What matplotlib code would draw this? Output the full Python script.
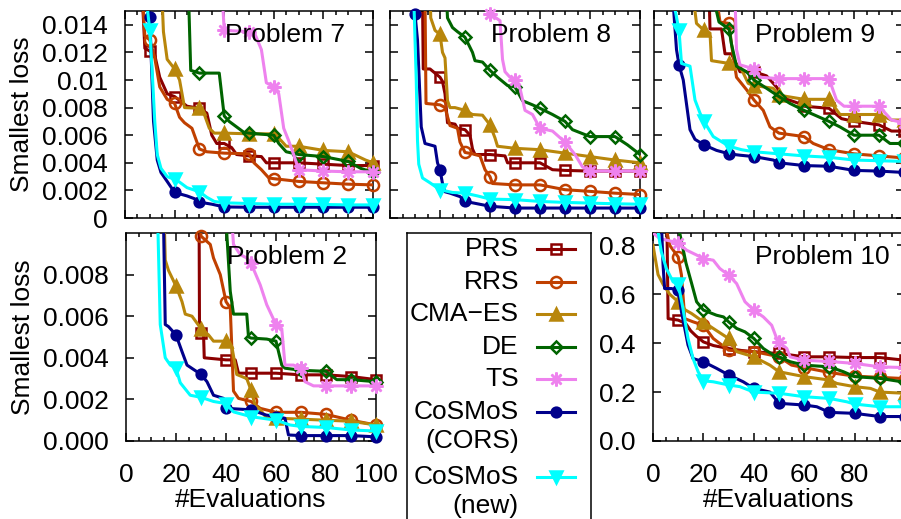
import matplotlib
matplotlib.use("Agg")
import matplotlib.pyplot as plt
import numpy as np

plt.rcParams["font.family"] = ["Liberation Sans", "DejaVu Sans"]
plt.rcParams["font.size"] = 19

W, H = 901, 519

# methods in legend order
NAMES = ["PRS", "RRS", "CMA\u2212ES", "DE", "TS", "CoSMoS\n(CORS)", "CoSMoS\n(new)"]
COLORS = ["#8b0000", "#c04000", "#b8860b", "#006400", "#ee82ee", "#00008b", "#00ffff"]
MARKERS = ["s", "o", "^", "D", (8, 2, 0), "o", "v"]
MSIZES = [7, 8, 9, 6.5, 10, 7, 8]
FILLED = [False, False, True, False, True, True, True]

# ---- Problem 7 (loss in 1e-3) ----
P7_PRS = ([7, 8, 10, 12, 14, 17, 20, 25, 30, 33, 35, 37, 40, 43, 45, 50, 55, 57, 60, 70, 80, 90, 100],
          [16, 12.3, 12.1, 11.8, 10.2, 9.0, 8.8, 8.1, 7.95, 7.6, 6.0, 5.4, 5.4, 5.1, 4.6, 4.5, 4.45, 4.0, 4.0, 4.0, 3.9, 3.8, 3.8])
P7_RRS = ([7, 8, 10, 12, 14, 17, 20, 22, 24, 27, 30, 33, 40, 50, 52, 55, 58, 60, 70, 80, 90, 100],
          [16, 13.2, 12.9, 11.6, 9.5, 8.6, 8.3, 7.3, 6.9, 6.5, 5.0, 4.8, 4.7, 4.65, 4.0, 3.5, 2.9, 2.85, 2.65, 2.55, 2.45, 2.4])
P7_CMA = ([14, 15.5, 17, 20, 22, 24, 30, 32, 34, 36, 40, 50, 60, 63, 65, 70, 80, 90, 97, 100],
          [20, 13.5, 11.5, 10.8, 10.0, 8.0, 7.95, 7.5, 6.5, 6.15, 6.15, 6.1, 6.1, 5.6, 5.2, 5.2, 4.9, 4.8, 4.2, 4.0])
P7_DE = ([25, 26.5, 30, 38, 40, 42, 45, 48, 50, 60, 62, 65, 70, 80, 90, 95, 100],
         [20, 10.7, 10.5, 10.5, 7.4, 7.0, 6.6, 6.2, 6.15, 6.0, 5.4, 4.8, 4.6, 4.45, 4.1, 3.6, 3.3])
P7_TS = ([38, 40, 50, 52, 55, 57, 60, 62, 64, 66, 68, 70, 80, 90, 100],
         [20, 13.6, 13.5, 13.5, 12.2, 9.8, 9.5, 9.0, 6.5, 5.6, 4.6, 3.5, 3.4, 3.35, 3.35])
P7_CORS = ([8, 10, 10.5, 11.5, 13, 14.5, 17, 20, 25, 28, 30, 35, 40, 50, 60, 70, 80, 90, 100],
           [16, 14.6, 12.0, 7.0, 4.2, 3.3, 2.65, 1.85, 1.6, 1.4, 1.15, 1.0, 0.8, 0.78, 0.78, 0.78, 0.78, 0.78, 0.78])
P7_NEW = ([8.5, 10, 11, 12, 13, 14.5, 17, 20, 22, 25, 30, 33, 36, 40, 50, 60, 70, 80, 90, 100],
          [16, 13.6, 10.5, 7.0, 4.6, 3.6, 3.0, 2.8, 2.6, 2.2, 1.9, 1.5, 1.2, 1.1, 1.05, 1.0, 1.0, 0.98, 0.95, 0.95])

# ---- Problem 8 (loss in 1e-3) ----
P8_PRS = ([13, 13.3, 16, 18, 20, 21, 22, 23, 26, 27, 30, 32, 33, 34, 40, 46, 47, 50, 60, 65, 70, 80, 90, 100],
          [16, 10.8, 10.8, 10.5, 10.2, 9.9, 9.0, 6.9, 6.8, 6.5, 6.4, 6.0, 5.0, 4.6, 4.6, 4.5, 4.0, 4.0, 4.0, 3.5, 3.45, 3.4, 3.4, 3.4])
P8_RRS = ([14, 14.4, 20, 22, 24, 27, 28, 30, 33, 36, 38, 40, 41, 50, 60, 70, 80, 90, 100],
          [16, 8.3, 8.2, 8.0, 6.7, 6.5, 5.5, 4.75, 4.65, 4.5, 3.5, 3.0, 2.5, 2.4, 2.4, 2.05, 1.93, 1.8, 1.7])
P8_CMA = ([15.5, 16.3, 18, 20, 21, 22, 23, 24, 26, 30, 33, 37, 40, 42, 43, 50, 60, 70, 80, 90, 100],
          [20, 14.5, 13.6, 13.3, 12.0, 11.6, 8.5, 8.0, 8.0, 7.8, 7.5, 7.45, 6.75, 5.8, 5.2, 5.05, 4.95, 4.7, 4.45, 4.2, 4.0])
P8_DE = ([21.5, 23, 25, 27, 30, 33, 34, 37, 40, 43, 47, 50, 53, 57, 60, 65, 70, 73, 80, 90, 95, 100],
         [20, 14.5, 13.8, 13.5, 13.1, 12.0, 11.4, 11.3, 10.7, 10.2, 9.6, 9.5, 8.5, 8.2, 7.95, 7.5, 7.0, 6.4, 5.9, 5.9, 5.3, 4.6])
P8_TS = ([38.5, 40, 44, 45, 46, 48, 50, 52, 54, 57, 60, 65, 70, 74, 77, 80, 90, 100],
         [20, 14.8, 14.3, 11.5, 10.6, 10.2, 10.0, 9.4, 7.8, 7.5, 6.5, 6.3, 5.5, 4.6, 3.7, 3.4, 3.4, 3.4])
P8_CORS = ([9, 10, 11, 12.5, 14, 16, 18, 19, 20, 21, 22, 24, 28, 30, 33, 40, 50, 60, 70, 80, 90, 100],
           [16, 14.8, 12.9, 6.6, 5.4, 5.3, 5.2, 4.0, 3.5, 2.5, 1.9, 1.8, 1.55, 1.2, 1.1, 0.85, 0.72, 0.72, 0.72, 0.72, 0.72, 0.72])
P8_NEW = ([9.5, 10.5, 11, 11.5, 13, 16, 20, 25, 30, 35, 40, 50, 60, 70, 80, 90, 100],
          [16, 10.0, 5.6, 3.9, 2.9, 2.55, 2.05, 1.85, 1.8, 1.6, 1.37, 1.33, 1.2, 1.13, 1.08, 1.03, 1.0])

# ---- Problem 9 (loss in 1e-3) ----
P9_PRS = ([21.5, 22.4, 27, 28.4, 31, 34.4, 40, 45, 49, 51.7, 58, 60, 70, 75, 80, 90, 95, 100],
          [20, 13.7, 13.7, 11.9, 11.9, 10.6, 10.6, 10.3, 9.5, 8.7, 8.3, 8.1, 7.95, 7.2, 7.0, 6.75, 6.3, 6.3])
P9_RRS = ([25, 26.4, 30, 31, 33, 37, 40, 43.7, 46.4, 50, 60, 63.7, 70, 80, 90, 100],
          [16, 14.2, 14.1, 12.6, 10.2, 9.3, 8.55, 7.8, 6.6, 6.15, 5.9, 5.4, 4.95, 4.65, 4.5, 4.35])
P9_CMA = ([15.7, 17, 20, 22.4, 23, 30, 34.4, 37.7, 40, 47.7, 50, 60, 70, 74.4, 80, 90, 95, 100],
          [16, 14.1, 13.6, 13.4, 11.4, 11.2, 11.0, 9.75, 9.6, 9.4, 8.9, 8.6, 8.6, 7.5, 7.5, 7.5, 7.1, 7.1])
P9_DE = ([23.7, 26, 30, 31, 33, 37, 40, 45, 50, 54.4, 60, 70, 74.4, 80, 90, 94.4, 100],
         [16, 14.2, 13.7, 12.6, 11.0, 10.6, 10.0, 9.4, 8.8, 8.3, 7.8, 7.0, 6.6, 6.0, 6.0, 5.4, 5.4])
P9_TS = ([32.4, 33, 34.4, 40, 42.4, 50, 60, 70, 73, 76, 80, 90, 95, 100],
         [16, 12.2, 11.1, 10.8, 10.2, 10.1, 10.1, 10.1, 8.55, 8.1, 8.1, 8.1, 7.1, 6.9])
P9_CORS = ([7.5, 9, 10, 11.7, 14.4, 16.4, 20, 25, 30, 34.4, 40, 47.7, 50, 60, 70, 80, 90, 100],
           [16, 12.2, 11.1, 10.0, 6.4, 5.7, 5.3, 4.9, 4.65, 4.55, 4.45, 4.2, 4.0, 3.8, 3.75, 3.45, 3.4, 3.3])
P9_NEW = ([7.5, 10, 11, 14.4, 16.4, 18.4, 20, 23.7, 30, 35, 40, 50, 60, 70, 80, 90, 100],
          [16, 13.6, 11.2, 11.0, 8.55, 7.6, 7.0, 5.9, 5.2, 4.95, 4.8, 4.65, 4.5, 4.4, 4.2, 4.15, 4.1])

# ---- Problem 2 (loss in 1e-3) ----
P2_PRS = ([29.2, 29.4, 30, 31, 31.3, 40, 43.7, 45, 50, 60, 70, 80, 90, 100],
          [12, 5.4, 5.2, 5.2, 4.0, 3.9, 3.9, 3.26, 3.26, 3.26, 3.18, 3.18, 3.1, 2.95])
P2_RRS = ([29, 30, 33.7, 35, 37.7, 40, 41.7, 43, 45, 50, 53.7, 60, 70, 80, 90, 100],
          [12, 9.85, 9.45, 8.8, 8.0, 6.7, 6.4, 2.4, 2.05, 1.9, 1.57, 1.38, 1.38, 1.28, 1.0, 0.77])
P2_CMA = ([15, 15.7, 17, 20, 22.4, 23.7, 26.4, 30, 33, 35, 40, 42.4, 44.3, 48.3, 50, 51.7, 53.7, 56.3, 60, 70, 80, 90, 100],
          [12, 8.7, 8.2, 7.45, 6.7, 6.1, 6.0, 5.4, 5.1, 4.8, 4.8, 4.5, 3.2, 3.0, 2.45, 1.7, 1.5, 1.1, 1.1, 1.05, 1.0, 0.95, 0.77])
P2_DE = ([40, 40.3, 41.7, 43, 48.3, 49, 50, 56.3, 60, 62.3, 63.6, 70, 80, 84.3, 90, 100],
         [12, 10, 7.2, 6.1, 6.1, 5.0, 4.95, 4.9, 4.8, 3.65, 3.5, 3.4, 3.35, 2.95, 2.95, 2.85])
P2_TS = ([41.5, 43, 45.7, 48.3, 50, 53.7, 56.3, 60, 62.3, 63.6, 67, 70, 71.6, 75, 80, 90, 100],
         [12, 9.45, 8.96, 8.8, 8.55, 7.5, 6.55, 5.6, 5.4, 3.65, 3.65, 3.5, 2.85, 2.65, 2.65, 2.65, 2.65])
P2_CORS = ([14.8, 15.7, 17, 20, 22.4, 24.4, 30, 32.4, 35, 39, 40, 43, 50, 56, 60, 63.6, 65, 70, 80, 90, 100],
           [12, 5.6, 5.5, 5.1, 4.3, 3.65, 3.2, 2.85, 2.2, 2.05, 1.6, 1.55, 1.5, 1.25, 1.17, 1.09, 0.29, 0.26, 0.26, 0.26, 0.2])
P2_NEW = ([12.4, 13.7, 15.7, 17.7, 20, 21.7, 25.7, 30, 35, 40, 43, 50, 60, 65.6, 70, 80, 90, 100],
          [12, 5.6, 4.0, 3.65, 3.5, 2.8, 2.2, 2.1, 1.9, 1.8, 1.4, 1.17, 1.0, 0.77, 0.7, 0.65, 0.53, 0.48])

# ---- Problem 10 ----
P10_PRS = ([5.5, 6, 10, 13, 15, 17, 20, 24, 30, 35, 40, 46, 50, 60, 70, 80, 90, 100],
           [0.9, 0.5, 0.494, 0.48, 0.45, 0.43, 0.405, 0.39, 0.378, 0.37, 0.365, 0.36, 0.358, 0.344, 0.344, 0.341, 0.341, 0.33])
P10_RRS = ([4.6, 6.6, 10, 11.3, 12.6, 15.9, 20, 23.9, 30, 34.5, 40, 45, 50, 55, 60, 70, 80, 90, 100],
           [0.9, 0.8, 0.752, 0.678, 0.5, 0.487, 0.473, 0.419, 0.371, 0.367, 0.365, 0.355, 0.344, 0.31, 0.3, 0.28, 0.265, 0.26, 0.255])
P10_CMA = ([0, 2, 4, 6.6, 10, 11.9, 15.3, 20, 23.9, 30, 33.2, 40, 46.4, 50, 60, 70, 73, 80, 86.3, 90, 100],
           [0.8, 0.68, 0.64, 0.6, 0.569, 0.541, 0.521, 0.487, 0.46, 0.419, 0.365, 0.344, 0.31, 0.283, 0.263, 0.249, 0.235, 0.222, 0.215, 0.2, 0.195])
P10_DE = ([8, 10, 10.6, 13.1, 15.3, 17.3, 20, 25.2, 28, 30, 33.2, 36.5, 40, 43.8, 47.8, 50, 54.4, 60, 70, 75.6, 80, 90, 100],
          [0.95, 0.9, 0.85, 0.727, 0.645, 0.569, 0.535, 0.514, 0.507, 0.487, 0.46, 0.446, 0.419, 0.378, 0.351, 0.344, 0.324, 0.31, 0.303, 0.283, 0.263, 0.256, 0.24])
P10_TS = ([0, 2.7, 10, 13.3, 17.3, 20, 23.9, 26.5, 30, 33.2, 36.5, 40, 43.8, 47.1, 49.1, 50, 53.1, 54.4, 60, 70, 80, 90, 100],
          [0.85, 0.827, 0.81, 0.78, 0.76, 0.745, 0.739, 0.705, 0.678, 0.643, 0.569, 0.535, 0.507, 0.473, 0.419, 0.405, 0.378, 0.344, 0.33, 0.325, 0.317, 0.303, 0.30])
P10_CORS = ([3.3, 4, 4.6, 7.3, 10, 11.3, 13.9, 15.9, 20, 25.2, 30, 35.8, 40, 46.4, 50, 60, 65, 70, 80, 90, 100],
            [0.9, 0.718, 0.623, 0.623, 0.616, 0.528, 0.392, 0.337, 0.324, 0.297, 0.27, 0.242, 0.215, 0.2, 0.154, 0.147, 0.14, 0.117, 0.113, 0.1, 0.1])
P10_NEW = ([1.3, 3.3, 5.3, 8, 10, 11.9, 13.9, 15.9, 17.9, 20, 23.9, 30, 34.5, 40, 50, 60, 70, 77, 80, 90, 100],
           [0.9, 0.773, 0.705, 0.65, 0.643, 0.541, 0.419, 0.337, 0.283, 0.246, 0.242, 0.229, 0.222, 0.2, 0.195, 0.181, 0.174, 0.16, 0.151, 0.14, 0.14])

TICKS_MILLI = [0, 2, 4, 6, 8, 10, 12, 14]
LABELS_P7 = ["0", "0.002", "0.004", "0.006", "0.008", "0.01", "0.012", "0.014"]
TICKS_P2 = [0, 2, 4, 6, 8]
LABELS_P2 = ["0.000", "0.002", "0.004", "0.006", "0.008"]
TICKS_P10 = [0, 0.2, 0.4, 0.6, 0.8]
LABELS_P10 = ["0.0", "0.2", "0.4", "0.6", "0.8"]
XTICKS = [0, 20, 40, 60, 80, 100]

# title, series, scale, ylim top (in series units), yticks, ylabels, pixel box (l, t, r, b)
PANELS = [
    ("Problem 7", [P7_PRS, P7_RRS, P7_CMA, P7_DE, P7_TS, P7_CORS, P7_NEW], 1e-3, 15,
     TICKS_MILLI, LABELS_P7, None, (125, 11, 373, 218)),
    ("Problem 8", [P8_PRS, P8_RRS, P8_CMA, P8_DE, P8_TS, P8_CORS, P8_NEW], 1e-3, 15,
     TICKS_MILLI, None, None, (390, 11, 640, 218)),
    ("Problem 9", [P9_PRS, P9_RRS, P9_CMA, P9_DE, P9_TS, P9_CORS, P9_NEW], 1e-3, 15,
     TICKS_MILLI, None, None, (654, 11, 904, 218)),
    ("Problem 2", [P2_PRS, P2_RRS, P2_CMA, P2_DE, P2_TS, P2_CORS, P2_NEW], 1e-3, 10,
     TICKS_P2, LABELS_P2, ["0", "20", "40", "60", "80", "100"], (126, 233, 376, 441)),
    ("Problem 10", [P10_PRS, P10_RRS, P10_CMA, P10_DE, P10_TS, P10_CORS, P10_NEW], 1, 0.85,
     TICKS_P10, LABELS_P10, ["0", "20", "40", "60", "80", ""], (653, 233, 905, 441)),
]


def px_rect(l, t, r, b):
    return [l / W, 1 - b / H, (r - l) / W, (b - t) / H]


fig = plt.figure(figsize=(W / 100, H / 100), dpi=100)

for title, series, scale, top, yt, ylab, xlab, box in PANELS:
    ax = fig.add_axes(px_rect(*box))
    for k, (xs, ys) in enumerate(series):
        x = np.array(xs, float)
        y = np.array(ys, float)
        ax.plot(x, y, color=COLORS[k], lw=2.2, zorder=2 + k)
        m = np.isclose(x % 10, 0) & (x > 0) & (y <= top)
        ax.plot(x[m], y[m], ls="none", marker=MARKERS[k], ms=MSIZES[k], mew=1.8,
                mec=COLORS[k], mfc=COLORS[k] if FILLED[k] else "none",
                clip_on=False, zorder=2 + k)
    ax.set_xlim(0, 100)
    ax.set_ylim(0, top)
    ax.set_xticks(XTICKS)
    ax.set_xticks(range(0, 101, 5), minor=True)
    ax.set_yticks(yt)
    ax.tick_params(which="both", direction="in", top=True, right=True, width=1.1)
    ax.tick_params(which="major", length=6)
    ax.tick_params(which="minor", length=3)
    ax.tick_params(axis="x", pad=15.5)
    ax.tick_params(axis="y", pad=12.5)
    for s in ax.spines.values():
        s.set_linewidth(1.1)
    if ylab is None:
        ax.set_yticklabels([])
    else:
        ax.set_yticklabels(ylab)
    if xlab is None:
        ax.set_xticklabels([])
    else:
        ax.set_xticklabels(xlab)
        ax.set_xlabel("#Evaluations")
        ax.xaxis.set_label_coords(0.5, -0.225)
    if box[0] < 200:
        ax.set_ylabel("Smallest loss")
        ax.yaxis.set_label_coords(-0.365, 0.5)
    ax.text(0.405, 1 - 30.5 / (box[3] - box[1]), title, transform=ax.transAxes,
            ha="left", va="baseline", zorder=20)

# legend panel
lax = fig.add_axes(px_rect(407, 233, 591, 560))
lax.set_xlim(407, 591)
lax.set_ylim(560, 233)
lax.set_xticks([])
lax.set_yticks([])
for s in lax.spines.values():
    s.set_linewidth(1.1)
LEG_Y = [249, 282, 314, 347, 379, 412, 477]
for k, name in enumerate(NAMES):
    y0 = LEG_Y[k]
    for j, line in enumerate(name.split("\n")):
        lax.text(519, y0 + 29 * j, line, ha="right", va="center")
    lax.plot([537, 575], [y0, y0], color=COLORS[k], lw=2.2)
    lax.plot([556], [y0], ls="none", marker=MARKERS[k], ms=MSIZES[k], mew=1.8,
             mec=COLORS[k], mfc=COLORS[k] if FILLED[k] else "none")

fig.savefig("out.png", dpi=100)
